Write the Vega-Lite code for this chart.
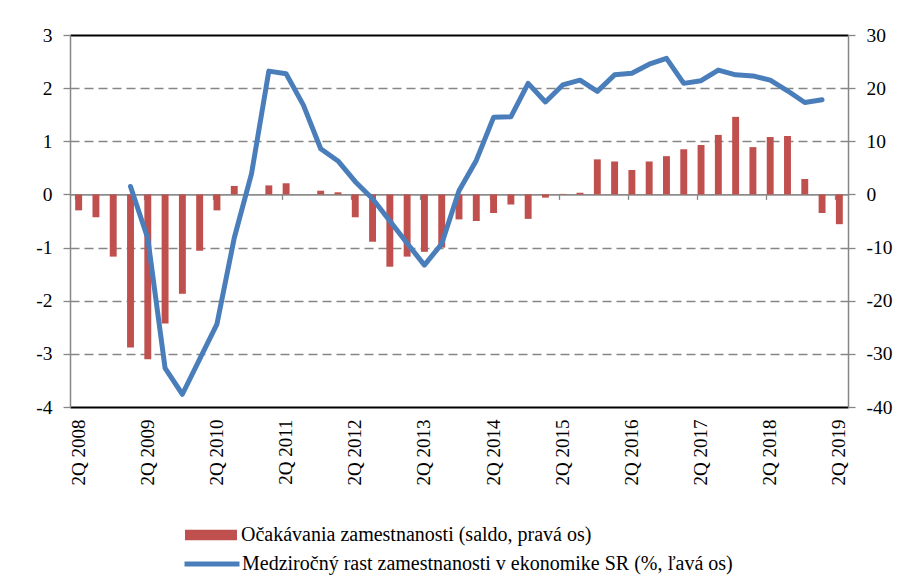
{
  "$schema": "https://vega.github.io/schema/vega-lite/v6.json",
  "width": 778,
  "height": 372,
  "autosize": {"type": "none"},
  "padding": {"left": 70, "top": 35, "right": 62, "bottom": 173},
  "background": "white",
  "config": {
    "view": {"stroke": null},
    "font": "Liberation Serif",
    "axis": {"labelFont": "Liberation Serif", "labelColor": "black"},
    "legend": {"labelFont": "Liberation Serif"}
  },
  "data": {
    "values": [
      {"q": "2Q 2008", "saldo": -3.0, "growth": null},
      {"q": "3Q 2008", "saldo": -4.3, "growth": null},
      {"q": "4Q 2008", "saldo": -11.7, "growth": null},
      {"q": "1Q 2009", "saldo": -28.8, "growth": 0.15},
      {"q": "2Q 2009", "saldo": -31.0, "growth": -0.83},
      {"q": "3Q 2009", "saldo": -24.3, "growth": -3.27},
      {"q": "4Q 2009", "saldo": -18.7, "growth": -3.76},
      {"q": "1Q 2010", "saldo": -10.6, "growth": -3.1},
      {"q": "2Q 2010", "saldo": -3.0, "growth": -2.44},
      {"q": "3Q 2010", "saldo": 1.6, "growth": -0.82},
      {"q": "4Q 2010", "saldo": 0.0, "growth": 0.39},
      {"q": "1Q 2011", "saldo": 1.7, "growth": 2.32},
      {"q": "2Q 2011", "saldo": 2.1, "growth": 2.27},
      {"q": "3Q 2011", "saldo": 0.0, "growth": 1.68},
      {"q": "4Q 2011", "saldo": 0.7, "growth": 0.86},
      {"q": "1Q 2012", "saldo": 0.4, "growth": 0.63},
      {"q": "2Q 2012", "saldo": -4.3, "growth": 0.24},
      {"q": "3Q 2012", "saldo": -8.9, "growth": -0.08},
      {"q": "4Q 2012", "saldo": -13.6, "growth": -0.5},
      {"q": "1Q 2013", "saldo": -11.7, "growth": -0.92},
      {"q": "2Q 2013", "saldo": -10.8, "growth": -1.33},
      {"q": "3Q 2013", "saldo": -10.0, "growth": -0.93},
      {"q": "4Q 2013", "saldo": -4.7, "growth": 0.07},
      {"q": "1Q 2014", "saldo": -5.0, "growth": 0.64},
      {"q": "2Q 2014", "saldo": -3.5, "growth": 1.45},
      {"q": "3Q 2014", "saldo": -1.9, "growth": 1.46},
      {"q": "4Q 2014", "saldo": -4.6, "growth": 2.09},
      {"q": "1Q 2015", "saldo": -0.6, "growth": 1.74},
      {"q": "2Q 2015", "saldo": 0.1, "growth": 2.06},
      {"q": "3Q 2015", "saldo": 0.3, "growth": 2.15},
      {"q": "4Q 2015", "saldo": 6.6, "growth": 1.94},
      {"q": "1Q 2016", "saldo": 6.2, "growth": 2.25},
      {"q": "2Q 2016", "saldo": 4.6, "growth": 2.28},
      {"q": "3Q 2016", "saldo": 6.2, "growth": 2.45},
      {"q": "4Q 2016", "saldo": 7.2, "growth": 2.56},
      {"q": "1Q 2017", "saldo": 8.5, "growth": 2.09},
      {"q": "2Q 2017", "saldo": 9.3, "growth": 2.14},
      {"q": "3Q 2017", "saldo": 11.2, "growth": 2.34},
      {"q": "4Q 2017", "saldo": 14.6, "growth": 2.25},
      {"q": "1Q 2018", "saldo": 8.9, "growth": 2.23},
      {"q": "2Q 2018", "saldo": 10.8, "growth": 2.15},
      {"q": "3Q 2018", "saldo": 11.0, "growth": 1.95},
      {"q": "4Q 2018", "saldo": 2.9, "growth": 1.73},
      {"q": "1Q 2019", "saldo": -3.5, "growth": 1.78},
      {"q": "2Q 2019", "saldo": -5.6, "growth": null}
    ]
  },
  "resolve": {
    "scale": {"y": "independent"},
    "axis": {"x": "independent", "y": "independent"}
  },
  "layer": [
    {
      "mark": {"type": "bar"},
      "encoding": {
        "x": {
          "field": "q", "type": "ordinal", "sort": null,
          "scale": {"paddingInner": 0.6, "paddingOuter": 0.3},
          "axis": {
            "orient": "bottom", "title": null, "grid": false, "ticks": false,
            "values": ["2Q 2008","2Q 2009","2Q 2010","2Q 2011","2Q 2012","2Q 2013","2Q 2014","2Q 2015","2Q 2016","2Q 2017","2Q 2018","2Q 2019"],
            "labelAngle": -90, "labelFontSize": 19, "labelPadding": 12,
            "domainColor": "black", "domainWidth": 2
          }
        },
        "y": {
          "field": "saldo", "type": "quantitative",
          "scale": {"domain": [-40, 30], "nice": false, "zero": false},
          "axis": {
            "orient": "right", "title": null, "grid": false,
            "values": [-40, -30, -20, -10, 0, 10, 20, 30],
            "labelExpr": "'' + datum.value",
            "labelFontSize": 19.5, "labelPadding": 11,
            "tickSize": 7, "tickColor": "#868686", "tickWidth": 1.3,
            "domainColor": "#868686", "domainWidth": 1.5
          }
        },
        "fill": {
          "datum": "Očakávania zamestnanosti (saldo, pravá os)",
          "scale": {"range": ["#C0504D"]},
          "legend": {
            "orient": "none", "legendX": 115, "legendY": 474, "title": null, "padding": 0,
            "symbolType": "M-1,-0.2H1V0.2H-1Z", "symbolSize": 2704, "symbolStrokeWidth": 0,
            "labelFontSize": 20, "labelColor": "black", "labelOffset": 4, "labelLimit": 800
          }
        }
      }
    },
    {
      "mark": {"type": "line", "strokeWidth": 5, "strokeJoin": "round", "strokeCap": "round"},
      "encoding": {
        "x": {
          "field": "q", "type": "ordinal", "sort": null,
          "scale": {"paddingInner": 0.6, "paddingOuter": 0.3},
          "axis": {
            "orient": "top", "title": null, "grid": false, "ticks": false, "labels": false,
            "domainColor": "black", "domainWidth": 2
          }
        },
        "y": {
          "field": "growth", "type": "quantitative",
          "scale": {"domain": [-4, 3], "nice": false, "zero": false},
          "axis": {
            "orient": "left", "title": null,
            "values": [-4, -3, -2, -1, 0, 1, 2, 3],
            "labelExpr": "'' + datum.value",
            "labelFontSize": 19.5, "labelPadding": 11,
            "tickSize": 7, "tickColor": "#868686", "tickWidth": 1.3,
            "domainColor": "#868686", "domainWidth": 1.5,
            "grid": true, "gridColor": "#868686", "gridWidth": 1.3, "gridDash": [9, 5],
            "gridOpacity": {"condition": {"test": "datum.value == 0 || datum.value == 3 || datum.value == -4", "value": 0}, "value": 1}
          }
        },
        "stroke": {
          "datum": "Medziročný rast zamestnanosti v ekonomike SR (%, ľavá os)",
          "scale": {"range": ["#4A7EBB"]},
          "legend": {
            "orient": "none", "legendX": 112, "legendY": 499, "title": null, "padding": 0,
            "symbolType": "stroke", "symbolSize": 3025, "symbolStrokeWidth": 5,
            "labelFontSize": 20, "labelColor": "black", "labelOffset": 0, "labelLimit": 800
          }
        }
      }
    },
    {
      "mark": {"type": "point", "opacity": 0},
      "encoding": {
        "x": {
          "field": "q", "type": "ordinal", "sort": null,
          "scale": {"paddingInner": 0.6, "paddingOuter": 0.3},
          "axis": {
            "orient": "bottom", "offset": -212.6, "title": null, "grid": false, "labels": false,
            "bandPosition": 0,
            "values": ["2Q 2008","2Q 2009","2Q 2010","2Q 2011","2Q 2012","2Q 2013","2Q 2014","2Q 2015","2Q 2016","2Q 2017","2Q 2018","2Q 2019"],
            "ticks": true, "tickSize": 5, "tickColor": "#868686", "tickWidth": 1.3,
            "domainColor": "#8C8C8C", "domainWidth": 1.6
          }
        },
        "y": {
          "field": "growth", "type": "quantitative",
          "scale": {"domain": [-4, 3], "nice": false, "zero": false},
          "axis": null
        }
      }
    }
  ]
}
